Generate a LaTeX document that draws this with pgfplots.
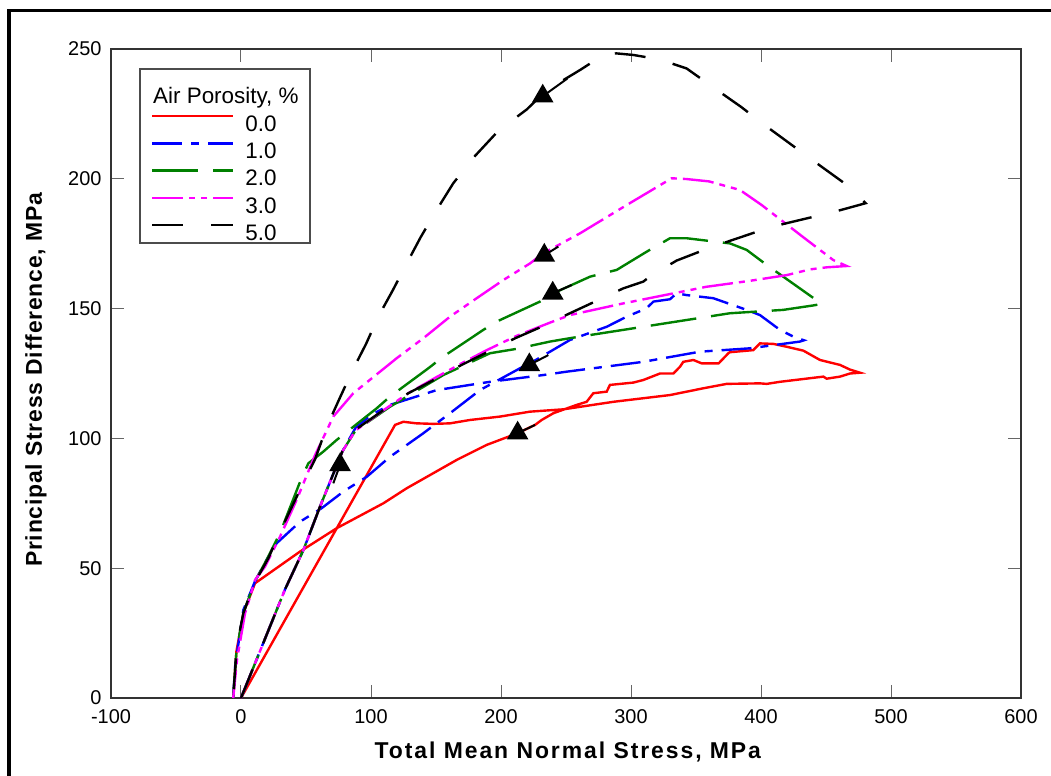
\documentclass[border=0pt]{standalone}
\usepackage{fontspec}
\setmainfont{Liberation Sans}
\newfontfamily\xlabfont[LetterSpace=8.5]{Liberation Sans}
\newfontfamily\ylabfont[LetterSpace=3.5]{Liberation Sans}
\usepackage{pgfplots}
\pgfplotsset{compat=1.18}
\definecolor{cgreen}{RGB}{0,128,0}
\definecolor{cmag}{RGB}{255,0,255}
\definecolor{cred}{RGB}{255,0,0}
\definecolor{cblue}{RGB}{0,0,255}
\tikzset{
 s0/.style={cred, line width=2.4bp, solid},
 s1/.style={cblue, line width=2.4bp, dash pattern=on 30bp off 9bp on 8bp off 9bp},
 s2/.style={cgreen, line width=2.4bp, dash pattern=on 46bp off 15bp},
 s3/.style={cmag, line width=2.4bp, dash pattern=on 31bp off 6bp on 6bp off 6bp on 6bp off 6bp},
 s5/.style={black, line width=2.4bp, dash pattern=on 31bp off 28bp},
}
\pgfplotsset{
 arr/.style={black, line width=2bp, solid, mark=triangle*, mark size=10.5bp, mark indices={2}, mark options={solid}, forget plot},
}
\begin{document}
\begin{tikzpicture}
\begin{axis}[
 at={(0,0)}, anchor=south west,
 width=910bp, height=649bp, scale only axis,
 xmin=-100, xmax=600, ymin=0, ymax=250,
 xtick={-100,0,100,200,300,400,500,600},
 ytick={0,50,100,150,200,250},
 tick align=inside, major tick length=13bp,
 tick style={black!60, line width=1bp},
 axis line style={black!80, line width=1.3bp},
 /pgf/number format/assume math mode=true,
 xticklabel style={font=\fontsize{20}{24}\selectfont, yshift=-8bp},
 yticklabel style={font=\fontsize{20}{24}\selectfont, xshift=-6bp},
 xlabel={Total Mean Normal Stress, MPa},
 ylabel={Principal Stress Difference, MPa},
 xlabel style={font=\xlabfont\bfseries\fontsize{23}{26}\selectfont, at={(axis description cs:0.502,-0.083)}, anchor=center},
 ylabel style={font=\ylabfont\bfseries\fontsize{23}{26}\selectfont, at={(axis description cs:-0.0824,0.49)}, anchor=center},
 legend style={at={(axis description cs:0.04396,0.8983)}, anchor=north west, draw=none, fill=none,
   inner sep=0pt, outer sep=0pt, row sep=10.8bp,
   nodes={inner sep=0pt, text height=15.5bp, text depth=0bp, font=\fontsize{22.5}{26}\selectfont},
   /tikz/every odd column/.append style={column sep=11bp}},
 legend cell align=left,
 legend image code/.code={\draw[#1] (0bp,7.5bp) -- (81bp,7.5bp);},
]
\addplot[s0] coordinates {
(0,0) (118.5,105.2) (124.9,106.4) (135,105.8) (148,105.6) (160.8,105.8) (176.2,107.1) (199.2,108.4) (222.3,110.3) (248,111.2) (286.5,114.1) (330,116.7) (355.6,119.3) (373.6,121) (399.2,121.2) (404.4,121) (414.6,121.8) (448,123.8) (450.5,123) (460.8,123.8) (468.5,125) (476.2,125.3)
(468.5,126.5) (460.8,128.3) (445.4,130.2) (432.6,133.8) (419.8,135.3) (409.5,136.4) (399.2,136.6) (396,135) (394.1,134) (376,133.2) (374.9,132.8) (367.4,128.9) (354.4,128.9) (348,130.2) (340.2,129.5) (337.7,127.6) (332.6,125) (322.3,125) (309.5,122.5) (301.8,121.5) (283.8,120.6) (281.3,118) (271,117.4) (265.9,114.1) (258.2,112.9) (240.3,109.7) (231.3,107.1) (226.2,105.2) (212.8,102) (189,97.5) (165.9,91.7) (127.5,80.8) (109.5,75) (73.6,65.4) (45.4,56.4) (10.8,44.2) (2,33) (-3.5,18) (-6,0)
};
\addlegendentry{0.0}
\addplot[s1] coordinates {
(0,0) (34,42) (48,57) (61,74) (78,95) (88,104) (100,109) (114.6,112.9) (150.5,118.6) (191.5,121.8) (232.5,124.4) (250.5,125.7) (309.5,129.5) (353,133.4) (391.5,134.7) (430,137.3) (433,137.8)
(424.9,139.2) (414.6,141.8) (399.2,147.5) (389,149.5) (363.3,154) (342.8,155.2) (335.1,155.9) (330,153.6) (317.2,152.7) (312,150.1) (296.7,146.9) (281.3,143) (253,137.9) (237.7,133.4) (222.3,128.9) (214.6,127) (183.8,118.6) (160.8,109.7) (140.3,102) (114.6,92.9) (96.7,85.2) (78.7,79.5) (62,73.1) (45.4,67.9) (27.4,59.6) (19.7,53.2) (10.8,45) (1.8,33.9) (-4.6,12) (-6,0)
};
\addlegendentry{1.0}
\addplot[s2] coordinates {
(0,0) (34,42) (48,57) (61,74) (78,95) (88,103) (114.6,112.2) (155.6,124.4) (191.5,132.8) (212,134.5) (237.7,137.3) (253,138.6) (294,141.8) (335,145) (376,148.2) (417,149.5) (440,151.2) (446.7,151.8)
(435.2,155.9) (404.4,166.8) (389,172.6) (376.2,175.1) (342.8,177.1) (330,177.1) (312,171.9) (289,164.9) (268.5,162.3) (240.3,155.9) (230,152.7) (196.7,145) (186.4,141.8) (155.6,131.5) (144.1,127) (114.6,116.1) (104.4,111.6) (73.6,99.4) (63.3,94.9) (51.8,90.4) (46,84) (30,63.5) (20,53.5) (10.8,45) (2,33) (-3.5,18) (-6,0)
};
\addlegendentry{2.0}
\addplot[s3] coordinates {
(0,0) (34,42) (48,57) (61,74) (78,95) (88,103) (110,111) (129,117.5) (150,123.5) (170,129) (189,134) (212,139.5) (237.7,144.6) (253,147.5) (294,152) (335,156.1) (358,158.4) (391.5,160.7) (419.8,162.9) (437.7,165.1) (450.5,165.9) (465.9,166.4)
(455.6,168.7) (433.8,177) (417,183.5) (400.5,189.9) (383.8,195.7) (360,199) (342.8,199.9) (331.3,200.2) (296.7,189.9) (260.8,179) (232.5,171.3) (222.3,167.4) (201.8,161) (181.3,154) (160.8,146.9) (140.3,138.6) (119.8,130.9) (100.5,123.1) (86.4,117.4) (71,108.4) (57,93.6) (42.8,76.3) (30,62.1) (18.5,50.6) (10.8,45.5) (3.1,32.6) (-3,15) (-6,0)
};
\addlegendentry{3.0}
\addplot[s5] coordinates {
(0,0) (34,42) (48,57) (61,74) (78,95) (87.7,103.2) (109.5,110.9) (128.7,117.4) (150.5,123.1) (169.7,128.3) (190.2,133.4) (211,138.6) (232.5,143.3) (253,148.2) (273.6,153) (294.1,157.8) (309.5,160.4) (315.1,162.6) (335.1,168.5) (356.2,172.6) (376.7,176.2) (398,179.8) (417.2,182.6) (439,185.2) (458.7,187.6) (480.5,190.6)
(467.2,197.2) (445.9,204.9) (425.4,212.4) (404.4,220.1) (384.4,227.8) (363.3,235.2) (342.8,242.5) (321.8,246) (301.8,247.7) (289,248.3) (280,248.1) (260.8,241.9) (235.2,234.2) (219.8,226.7) (198,218.5) (180,208.8) (163.3,198.3) (150.5,188) (138.2,177.5) (127.5,167.4) (116.7,157) (105.6,146.9) (96.2,136.4) (85.9,126.3) (76.2,115.8) (66,104.5) (57,92) (42.8,77.5) (30,64) (21,53.8) (9.5,43.5) (1.8,32.6) (-3.3,19.8) (-6,0)
};
\addlegendentry{5.0}
% direction arrows
\addplot[arr] coordinates {(251,238.6) (232.1,231.8)};
\addplot[arr] coordinates {(244.1,173.9) (233.3,170.5)};
\addplot[arr] coordinates {(254.4,159.1) (239.8,155.9)};
\addplot[arr] coordinates {(236.4,132.1) (221.8,128.3)};
\addplot[arr] coordinates {(226.2,105.2) (212.8,102)};
\addplot[arr] coordinates {(71,82.7) (76.2,89.8)};
\end{axis}
% legend frame and title
\draw[black!70, line width=1.2bp] (29bp,629bp) rectangle (199bp,455bp);
\node[anchor=base west, inner sep=0pt, font=\fontsize{22.5}{26}\selectfont] at (42bp,594.7bp) {Air Porosity, \%};
% outer frame
\draw[black, line width=3.5bp] (-102bp,-90bp) -- (-102bp,687.7bp) -- (960bp,687.7bp);
\pgfresetboundingbox
\useasboundingbox (-111bp,-78bp) rectangle (940bp,698bp);
\end{tikzpicture}
\end{document}
